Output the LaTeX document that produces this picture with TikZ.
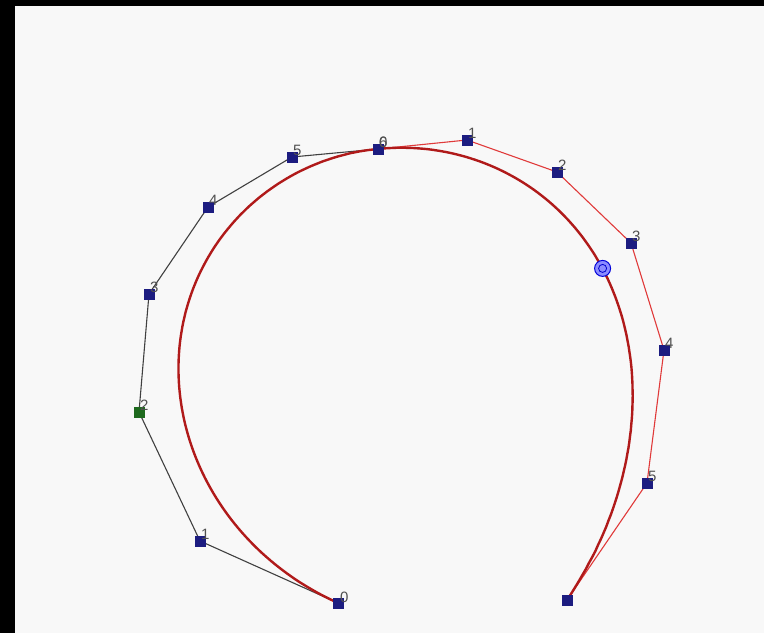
\documentclass[tikz,border=0pt]{standalone}
\usepackage{fontspec}
\setsansfont{Liberation Sans}
\usetikzlibrary{calc}
\definecolor{bgc}{HTML}{F8F8F8}
\definecolor{navy}{HTML}{1C1C80}
\definecolor{dgreen}{HTML}{1E6A1E}
\definecolor{polyred}{HTML}{E03A3A}
\definecolor{curvered}{HTML}{B01A1A}
\definecolor{lblc}{HTML}{505050}
\begin{document}
\begin{tikzpicture}[x=1pt,y=-1pt,
  ctrl/.style={rectangle,fill=navy,draw=none,minimum size=11pt,inner sep=0pt},
  ctrlg/.style={ctrl,fill=dgreen},
  lbl/.style={text=lblc,font=\sffamily\fontsize{15}{15}\selectfont,inner sep=0pt,anchor=south west},
  polyblack/.style={draw=black!75,line width=1.1pt},
  polyr/.style={draw=polyred,line width=1.1pt},
  curve/.style={draw=curvered,line width=2.4pt,line join=round}]
\fill[black] (0,0) rectangle (764,633);
\fill[bgc] (15,6) rectangle (764,633);
\useasboundingbox (0,0) rectangle (764,633);
% control point coordinates
\coordinate (a0) at (338,603);
\coordinate (a1) at (200,541);
\coordinate (a2) at (139,412);
\coordinate (a3) at (149,294);
\coordinate (a4) at (208,207);
\coordinate (a5) at (292,157);
\coordinate (a6) at (378,149);
\coordinate (b1) at (467,140);
\coordinate (b2) at (557,172);
\coordinate (b3) at (631,243);
\coordinate (b4) at (664,350);
\coordinate (b5) at (647,483);
\coordinate (b6) at (567,600);
% control polygons
\draw[polyblack] (a0) -- (a1) -- (a2) -- (a3) -- (a4) -- (a5) -- (a6);
\draw[polyr] (a6) -- (b1) -- (b2) -- (b3) -- (b4) -- (b5) -- (b6);
% degree-6 Bezier curves
\draw[curve] plot[domain=0:1,samples=120,variable=\t]
 ({(1-\t)^6*338+6*(1-\t)^5*\t*200+15*(1-\t)^4*\t^2*139+20*(1-\t)^3*\t^3*149+15*(1-\t)^2*\t^4*208+6*(1-\t)*\t^5*292+\t^6*378},
  {(1-\t)^6*603+6*(1-\t)^5*\t*541+15*(1-\t)^4*\t^2*412+20*(1-\t)^3*\t^3*294+15*(1-\t)^2*\t^4*207+6*(1-\t)*\t^5*157+\t^6*149});
\draw[curve] plot[domain=0:1,samples=120,variable=\t]
 ({(1-\t)^6*378+6*(1-\t)^5*\t*467+15*(1-\t)^4*\t^2*557+20*(1-\t)^3*\t^3*631+15*(1-\t)^2*\t^4*664+6*(1-\t)*\t^5*647+\t^6*567},
  {(1-\t)^6*149+6*(1-\t)^5*\t*140+15*(1-\t)^4*\t^2*172+20*(1-\t)^3*\t^3*243+15*(1-\t)^2*\t^4*350+6*(1-\t)*\t^5*483+\t^6*600});
% control point markers
\node[ctrl]  (na0) at (a0) {};
\node[ctrl]  (na1) at (a1) {};
\node[ctrlg] (na2) at (a2) {};
\node[ctrl]  (na3) at (a3) {};
\node[ctrl]  (na4) at (a4) {};
\node[ctrl]  (na5) at (a5) {};
\node[ctrl]  (na6) at (a6) {};
\node[ctrl]  (nb1) at (b1) {};
\node[ctrl]  (nb2) at (b2) {};
\node[ctrl]  (nb3) at (b3) {};
\node[ctrl]  (nb4) at (b4) {};
\node[ctrl]  (nb5) at (b5) {};
\node[ctrl]  (nb6) at (b6) {};
% labels
\node[lbl] (la0) at ($(a0)+(2,0)$) {0};
\node[lbl] (la1) at ($(a1)+(1,-1)$) {1};
\node[lbl] (la2) at ($(a2)+(1,-1)$) {2};
\node[lbl] (la3) at ($(a3)+(1,-1)$) {3};
\node[lbl] (la4) at ($(a4)+(1,-1)$) {4};
\node[lbl] (la5) at ($(a5)+(1,-1)$) {5};
\node[lbl] (la6) at ($(a6)+(1,-1)$) {6};
\node[lbl] (lb0) at ($(a6)+(1,-1)$) {0};
\node[lbl] (lb1) at ($(b1)+(1,-1)$) {1};
\node[lbl] (lb2) at ($(b2)+(1,-1)$) {2};
\node[lbl] (lb3) at ($(b3)+(1,-1)$) {3};
\node[lbl] (lb4) at ($(b4)+(1,-1)$) {4};
\node[lbl] (lb5) at ($(b5)+(1,-1)$) {5};
% point on curve at t = 0.5
\node[circle,draw=blue!85!black,fill=blue!45!white,line width=1pt,minimum size=16pt,inner sep=0pt] (pt) at (602.6,268.4) {};
\draw[blue!80!black,line width=0.8pt] (pt.center) circle (4);
\end{tikzpicture}
\end{document}
